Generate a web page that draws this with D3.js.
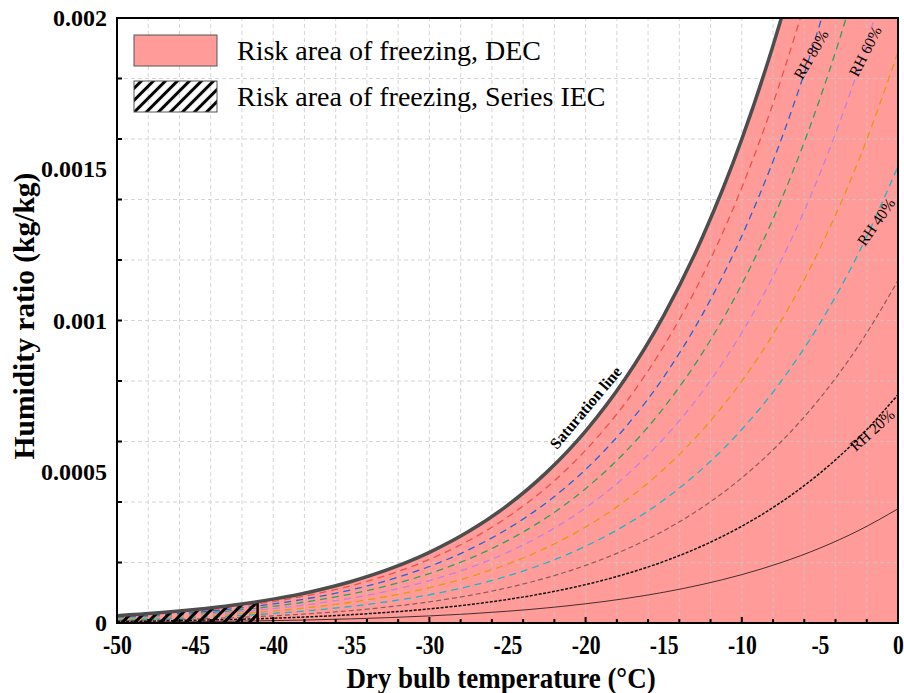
<!DOCTYPE html>
<html>
<head>
<meta charset="utf-8">
<script src="https://cdn.jsdelivr.net/npm/d3@7"></script>
<style>
  html, body { margin: 0; padding: 0; background: #fff; }
  svg { display: block; }
</style>
</head>
<body>
<svg id="chart" width="904" height="693"></svg>
<script>
// ---------------- DATA ----------------
const temps = [-50, -47.5, -45, -42.5, -40, -37.5, -35, -32.5, -30, -27.5, -25, -22.5, -20, -17.5, -15, -12.5, -10, -7.5, -5, -2.5, 0];

const wSat = [2.42e-5, 3.28e-5, 4.43e-5, 5.93e-5, 7.89e-5, 1.044e-4, 1.373e-4, 1.795e-4, 2.335e-4, 3.021e-4, 3.888e-4, 4.979e-4, 6.345e-4, 8.049e-4, 1.0163e-3, 1.2776e-3, 1.5994e-3, 1.994e-3, 2.476e-3, 3.063e-3, 3.775e-3];

const rh90 = [2.18e-5, 2.95e-5, 3.98e-5, 5.34e-5, 7.10e-5, 9.39e-5, 1.236e-4, 1.616e-4, 2.102e-4, 2.719e-4, 3.499e-4, 4.481e-4, 5.711e-4, 7.244e-4, 9.147e-4, 1.1499e-3, 1.4395e-3, 1.7946e-3, 2.2283e-3, 2.7564e-3, 3.3972e-3];
const rh80 = [1.93e-5, 2.63e-5, 3.54e-5, 4.74e-5, 6.31e-5, 8.35e-5, 1.098e-4, 1.436e-4, 1.868e-4, 2.417e-4, 3.110e-4, 3.983e-4, 5.076e-4, 6.439e-4, 8.131e-4, 1.0221e-3, 1.2795e-3, 1.5952e-3, 1.9807e-3, 2.4502e-3, 3.0198e-3];
const rh70 = [1.69e-5, 2.30e-5, 3.10e-5, 4.15e-5, 5.52e-5, 7.31e-5, 9.61e-5, 1.257e-4, 1.635e-4, 2.115e-4, 2.722e-4, 3.485e-4, 4.442e-4, 5.634e-4, 7.114e-4, 8.944e-4, 1.1196e-3, 1.3958e-3, 1.7331e-3, 2.1439e-3, 2.6423e-3];
const rh60 = [1.45e-5, 1.97e-5, 2.66e-5, 3.56e-5, 4.73e-5, 6.26e-5, 8.24e-5, 1.077e-4, 1.401e-4, 1.813e-4, 2.333e-4, 2.987e-4, 3.807e-4, 4.830e-4, 6.098e-4, 7.666e-4, 9.596e-4, 1.1964e-3, 1.4855e-3, 1.8376e-3, 2.2648e-3];
const rh50 = [1.21e-5, 1.64e-5, 2.21e-5, 2.96e-5, 3.95e-5, 5.22e-5, 6.86e-5, 8.98e-5, 1.168e-4, 1.511e-4, 1.944e-4, 2.490e-4, 3.173e-4, 4.025e-4, 5.082e-4, 6.388e-4, 7.997e-4, 9.970e-4, 1.2380e-3, 1.5314e-3, 1.8874e-3];
const rh40 = [9.7e-6, 1.31e-5, 1.77e-5, 2.37e-5, 3.16e-5, 4.18e-5, 5.49e-5, 7.18e-5, 9.34e-5, 1.208e-4, 1.555e-4, 1.992e-4, 2.538e-4, 3.220e-4, 4.065e-4, 5.111e-4, 6.398e-4, 7.976e-4, 9.904e-4, 1.2251e-3, 1.5099e-3];
const rh30 = [7.3e-6, 9.8e-6, 1.33e-5, 1.78e-5, 2.37e-5, 3.13e-5, 4.12e-5, 5.39e-5, 7.01e-5, 9.06e-5, 1.166e-4, 1.494e-4, 1.904e-4, 2.415e-4, 3.049e-4, 3.833e-4, 4.798e-4, 5.982e-4, 7.428e-4, 9.188e-4, 1.1324e-3];
const rh20 = [4.8e-6, 6.6e-6, 8.9e-6, 1.19e-5, 1.58e-5, 2.09e-5, 2.75e-5, 3.59e-5, 4.67e-5, 6.04e-5, 7.78e-5, 9.96e-5, 1.269e-4, 1.610e-4, 2.033e-4, 2.555e-4, 3.199e-4, 3.988e-4, 4.952e-4, 6.125e-4, 7.549e-4];
const rh10 = [2.4e-6, 3.3e-6, 4.4e-6, 5.9e-6, 7.9e-6, 1.04e-5, 1.37e-5, 1.80e-5, 2.34e-5, 3.02e-5, 3.89e-5, 4.98e-5, 6.35e-5, 8.05e-5, 1.016e-4, 1.278e-4, 1.599e-4, 1.994e-4, 2.476e-4, 3.063e-4, 3.775e-4];

const rhNames = ["RH 90%", "RH 80%", "RH 70%", "RH 60%", "RH 50%", "RH 40%", "RH 30%", "RH 20%", "RH 10%"];
const rhSeries = [rh90, rh80, rh70, rh60, rh50, rh40, rh30, rh20, rh10];

const iecLimit = -41;               // series IEC freezing boundary (°C)
const xDomain = [-50, 0];
const yDomain = [0, 0.002];
const xTickValues = [-50, -45, -40, -35, -30, -25, -20, -15, -10, -5, 0];
const xTickLabels = ["-50", "-45", "-40", "-35", "-30", "-25", "-20", "-15", "-10", "-5", "0"];
const yTickValues = [0, 0.0005, 0.001, 0.0015, 0.002];
const yTickLabels = ["0", "0.0005", "0.001", "0.0015", "0.002"];
const legendLabels = ["Risk area of freezing, DEC", "Risk area of freezing, Series IEC"];

// annotation anchors (data coords) and angles
const annTexts = ["Saturation line", "RH 80%", "RH 60%", "RH 40%", "RH 20%"];
const annT = [-20.0, -5.57, -2.11, -1.41, -1.66];
const annW = [0.000712, 0.00188, 0.00189, 0.001326, 0.000638];
const annAngle = [-50, -60, -63, -55, -42];

// ---------------- STYLE ----------------
const rhStyles = [
  { color: "#f0504a", dash: "7,5", width: 1.3 },
  { color: "#2563d6", dash: "7,5", width: 1.3 },
  { color: "#2ea05a", dash: "7,5", width: 1.3 },
  { color: "#c080e8", dash: "7,5", width: 1.3 },
  { color: "#e39a0e", dash: "7,5", width: 1.3 },
  { color: "#1bb5cc", dash: "7,5", width: 1.3 },
  { color: "#8c5c5c", dash: "5,3", width: 1.2 },
  { color: "#111111", dash: "3,1.5", width: 1.5 },
  { color: "#111111", dash: null, width: 0.8 }
];
const fillColor = "#ff9c99";
const serif = "'Liberation Serif', 'Times New Roman', serif";

const W = 904, H = 693;
const margin = { left: 117, right: 6, top: 18, bottom: 70 };
const svg = d3.select("#chart");
svg.append("rect").attr("width", W).attr("height", H).attr("fill", "#fff");

const x = d3.scaleLinear().domain(xDomain).range([margin.left, W - margin.right]);
const y = d3.scaleLinear().domain(yDomain).range([H - margin.bottom, margin.top]);

const defs = svg.append("defs");
defs.append("clipPath").attr("id", "plotClip").append("rect")
  .attr("x", x(xDomain[0])).attr("y", y(yDomain[1]))
  .attr("width", x(xDomain[1]) - x(xDomain[0])).attr("height", y(yDomain[0]) - y(yDomain[1]));
defs.append("clipPath").attr("id", "iecClip").append("rect")
  .attr("x", x(xDomain[0])).attr("y", y(yDomain[1]))
  .attr("width", x(iecLimit) - x(xDomain[0])).attr("height", y(yDomain[0]) - y(yDomain[1]));

function hatch(id, size, width) {
  const p = defs.append("pattern").attr("id", id)
    .attr("patternUnits", "userSpaceOnUse")
    .attr("width", size).attr("height", size)
    .attr("patternTransform", "rotate(45)");
  p.append("line").attr("x1", size / 2).attr("y1", 0).attr("x2", size / 2).attr("y2", size)
    .attr("stroke", "#000").attr("stroke-width", width);
}
hatch("hatchPlot", 9, 3);
hatch("hatchLegend", 8.5, 3);

const satPts = temps.map((t, i) => [t, wSat[i]]);
const areaGen = d3.area().x(d => x(d[0])).y0(y(0)).y1(d => y(d[1])).curve(d3.curveMonotoneX);
const lineGen = d3.line().x(d => x(d[0])).y(d => y(d[1])).curve(d3.curveMonotoneX);

defs.append("clipPath").attr("id", "satClip").append("path").attr("d", areaGen(satPts));

const plot = svg.append("g").attr("clip-path", "url(#plotClip)");

// fill
plot.append("path").attr("d", areaGen(satPts)).attr("fill", fillColor);

// grid
const grid = plot.append("g").attr("stroke", "#c8c8c8").attr("stroke-dasharray", "4,3")
  .attr("stroke-width", 1).attr("opacity", 0.75);
grid.selectAll("line.v").data(x.ticks(20)).join("line")
  .attr("x1", d => x(d)).attr("x2", d => x(d)).attr("y1", y(yDomain[0])).attr("y2", y(yDomain[1]));
grid.selectAll("line.h").data(y.ticks(8)).join("line")
  .attr("y1", d => y(d)).attr("y2", d => y(d)).attr("x1", x(xDomain[0])).attr("x2", x(xDomain[1]));

// RH lines
rhSeries.forEach((s, i) => {
  const st = rhStyles[i];
  plot.append("path").attr("d", lineGen(temps.map((t, j) => [t, s[j]])))
    .attr("fill", "none").attr("stroke", st.color).attr("stroke-width", st.width)
    .attr("stroke-dasharray", st.dash);
});

// IEC hatch region
plot.append("path").attr("d", areaGen(satPts)).attr("fill", "url(#hatchPlot)")
  .attr("clip-path", "url(#iecClip)");
plot.append("g").attr("clip-path", "url(#satClip)").append("line")
  .attr("x1", x(iecLimit)).attr("x2", x(iecLimit))
  .attr("y1", y(yDomain[0])).attr("y2", y(yDomain[1]))
  .attr("stroke", "#000").attr("stroke-width", 2.5);

// saturation line
plot.append("path").attr("d", lineGen(satPts)).attr("fill", "none")
  .attr("stroke", "#4d4d4d").attr("stroke-width", 3.5);

// annotations
annTexts.forEach((txt, i) => {
  svg.append("text")
    .attr("transform", `translate(${x(annT[i])},${y(annW[i])}) rotate(${annAngle[i]})`)
    .attr("text-anchor", "middle").attr("dominant-baseline", "central")
    .attr("font-family", serif)
    .attr("font-size", i === 0 ? 16 : 15.5)
    .attr("font-weight", i === 0 ? "bold" : "normal")
    .attr("fill", "#000").text(txt);
});

// frame
svg.append("rect").attr("x", x(xDomain[0])).attr("y", y(yDomain[1]))
  .attr("width", x(xDomain[1]) - x(xDomain[0])).attr("height", y(yDomain[0]) - y(yDomain[1]))
  .attr("fill", "none").attr("stroke", "#000").attr("stroke-width", 2);

// axes ticks (inward)
const xMinor = x.ticks(20);
svg.append("g").selectAll("line").data(xMinor).join("line")
  .attr("x1", d => x(d)).attr("x2", d => x(d))
  .attr("y1", y(0)).attr("y2", d => y(0) - (xTickValues.includes(d) ? 6 : 4))
  .attr("stroke", "#000").attr("stroke-width", 2);
const yMinor = y.ticks(8);
svg.append("g").selectAll("line").data(yMinor).join("line")
  .attr("y1", d => y(d)).attr("y2", d => y(d))
  .attr("x1", x(xDomain[0])).attr("x2", d => x(xDomain[0]) + 5)
  .attr("stroke", "#000").attr("stroke-width", 2);

// tick labels
const xAxis = d3.axisBottom(x).tickValues(xTickValues).tickSize(0)
  .tickFormat((d, i) => xTickLabels[i]);
const gx = svg.append("g").attr("transform", `translate(0,${y(0)})`).call(xAxis);
gx.select(".domain").remove();
gx.selectAll("text").attr("y", 0).attr("dy", null)
  .attr("transform", "translate(0,31) scale(0.8,1)")
  .attr("font-family", serif).attr("font-weight", "bold").attr("font-size", 27).attr("fill", "#000");

const yAxis = d3.axisLeft(y).tickValues(yTickValues).tickSize(0).tickPadding(10)
  .tickFormat((d, i) => yTickLabels[i]);
const gy = svg.append("g").attr("transform", `translate(${x(xDomain[0])},0)`).call(yAxis);
gy.select(".domain").remove();
gy.selectAll("text").attr("font-family", serif).attr("font-weight", "bold")
  .attr("font-size", 24).attr("fill", "#000");

// axis titles
svg.append("text").attr("transform", `translate(501,688) scale(0.9,1)`)
  .attr("text-anchor", "middle").attr("font-family", serif).attr("font-weight", "bold")
  .attr("font-size", 30).text("Dry bulb temperature (°C)");
svg.append("text").attr("transform", `translate(34,316) rotate(-90)`)
  .attr("text-anchor", "middle").attr("font-family", serif).attr("font-weight", "bold")
  .attr("font-size", 29.5).text("Humidity ratio (kg/kg)");

// legend
const lg = svg.append("g");
lg.append("rect").attr("x", 134).attr("y", 35).attr("width", 83).attr("height", 31)
  .attr("fill", fillColor).attr("stroke", "#555").attr("stroke-width", 1);
lg.append("rect").attr("x", 134).attr("y", 81).attr("width", 83).attr("height", 31)
  .attr("fill", "url(#hatchLegend)").attr("stroke", "#555").attr("stroke-width", 1);
legendLabels.forEach((t, i) => {
  lg.append("text").attr("x", 237).attr("y", 60 + i * 46)
    .attr("font-family", serif).attr("font-size", 28).attr("fill", "#000").text(t);
});
</script>
</body>
</html>
